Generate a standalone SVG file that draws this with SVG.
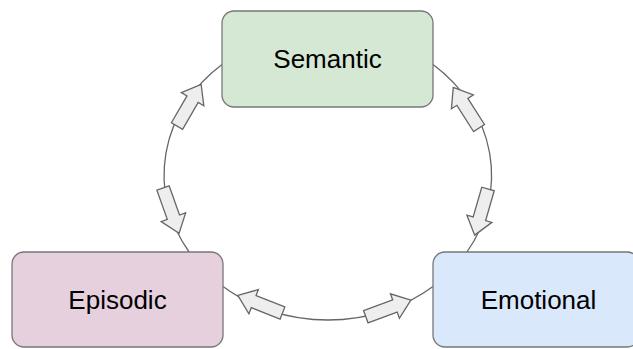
<svg xmlns="http://www.w3.org/2000/svg" width="633" height="349" viewBox="0 0 633 349">
<style>
.conn{fill:none;stroke:#666;stroke-width:1.3}
.arr{fill:#eeeeee;stroke:#666;stroke-width:1.3;stroke-linejoin:miter}
.box{stroke:#777;stroke-width:1.3}
.lbl{font-family:"Liberation Sans",Arial,sans-serif;font-size:26px;fill:#000;text-anchor:middle}
</style>
<defs>
<polygon id="blk" points="0,-6.5 31,-6.5 31,-13 48,0 31,13 31,6.5 0,6.5"/>
</defs>
<g id="connectors">
<path class="conn" d="M222,64.4 A164,145 0 0 0 189.1,252"/>
<path class="conn" d="M433,64.4 A164,145 0 0 1 466.9,252"/>
<path class="conn" d="M223,286.4 A164,145 0 0 0 433,286.4"/>
<use href="#blk" class="arr" transform="translate(177,126) rotate(-59.8)"/>
<use href="#blk" class="arr" transform="translate(163,188) rotate(70.4)"/>
<use href="#blk" class="arr" transform="translate(479,128) rotate(-122.4)"/>
<use href="#blk" class="arr" transform="translate(488,189) rotate(106.1)"/>
<use href="#blk" class="arr" transform="translate(282.5,313) rotate(-158.5)"/>
<use href="#blk" class="arr" transform="translate(365.8,316.7) rotate(-20.1)"/>
</g>
<g id="semantic">
<rect class="box" x="222" y="11" width="211" height="96" rx="12" fill="#d5e8d4"/>
<text class="lbl" x="327.5" y="68">Semantic</text>
</g>
<g id="episodic">
<rect class="box" x="12" y="252" width="211" height="95" rx="12" fill="#e6d0de"/>
<text class="lbl" x="117.5" y="309">Episodic</text>
</g>
<g id="emotional">
<rect class="box" x="433" y="252" width="206" height="95" rx="12" fill="#dae8fc"/>
<text class="lbl" x="538.5" y="309">Emotional</text>
</g>
</svg>
